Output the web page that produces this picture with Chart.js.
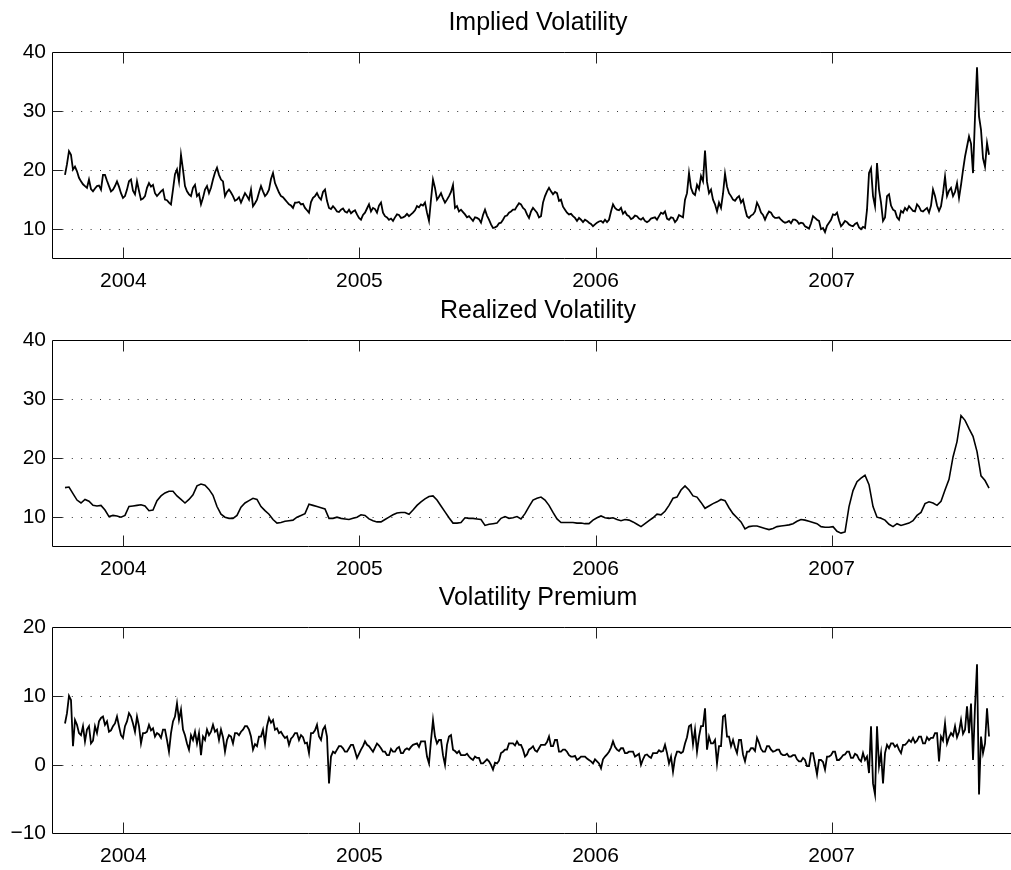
<!DOCTYPE html>
<html>
<head>
<meta charset="utf-8">
<script src="https://cdn.jsdelivr.net/npm/chart.js@4.4.1/dist/chart.umd.min.js"></script>
<style>
  html, body { margin: 0; padding: 0; background: #fff; overflow: hidden; }
  #wrap { position: relative; width: 1011px; height: 870px; overflow: hidden; background: #fff; }
  canvas { position: absolute; left: 0; }
</style>
</head>
<body>
<div id="wrap">
  <canvas id="c1" width="1076" height="295" style="top:0px"></canvas>
  <canvas id="c2" width="1076" height="295" style="top:288px"></canvas>
  <canvas id="c3" width="1076" height="295" style="top:575px"></canvas>
</div>
<script>
// ---- data: decimal-year sampling grid, Oct 2003 .. Aug 2007 ----
const sampleStart = 2003.753;
const denseStep = 0.008471;   // implied vol & premium (about 3 days)
const coarseStep = 0.016942;  // realized vol (about 6 days)
const yearTicks = [2004, 2005, 2006, 2007];
const volTicks = [10, 20, 30, 40];
const premiumTicks = [-10, 0, 10, 20];
const panelTitles = ['Implied Volatility', 'Realized Volatility', 'Volatility Premium'];

const impliedVol = [
  19.2, 21.0, 23.2, 22.6, 20.1, 20.6, 19.8, 18.7, 18.1, 17.6,
  17.3, 17.0, 18.4, 16.8, 16.4, 16.9, 17.3, 17.4, 16.7, 19.2,
  19.2, 18.2, 17.3, 16.4, 16.7, 17.3, 18.1, 17.2, 16.1, 15.3,
  15.6, 16.7, 18.1, 18.4, 16.5, 15.9, 18.1, 16.5, 15.0, 15.2,
  15.6, 17.0, 17.8, 17.2, 17.5, 16.1, 15.6, 16.0, 16.4, 16.7,
  15.0, 14.9, 14.5, 14.2, 16.7, 19.3, 20.1, 18.1, 22.6, 20.1,
  17.3, 16.4, 15.9, 15.6, 17.0, 17.5, 15.6, 16.0, 14.2, 15.3,
  16.7, 17.3, 16.1, 17.0, 18.4, 19.6, 20.4, 19.2, 18.4, 18.1,
  15.6, 16.3, 16.7, 16.2, 15.6, 14.8, 15.0, 15.4, 14.5, 15.3,
  16.1, 15.6, 15.0, 16.7, 13.9, 14.4, 15.0, 16.2, 17.3, 16.4,
  15.6, 16.0, 16.7, 18.5, 19.5, 17.8, 17.0, 16.2, 15.6, 15.4,
  15.0, 14.6, 14.2, 14.0, 13.6, 14.5, 14.5, 14.6, 14.2, 14.3,
  13.6, 13.2, 12.8, 14.6, 15.3, 15.6, 16.1, 15.4, 15.0, 16.3,
  16.7, 14.8, 13.6, 13.4, 13.9, 13.5, 13.0, 12.9, 13.3, 13.5,
  13.0, 12.8, 13.3, 12.7, 13.0, 13.2, 12.5, 11.9, 11.6, 12.4,
  12.8, 13.5, 14.2, 13.0, 13.6, 13.4, 12.8, 14.0, 14.5, 12.8,
  12.2, 12.0, 11.6, 11.8, 11.4, 12.0, 12.5, 12.4, 11.9, 12.0,
  12.2, 12.6, 12.2, 12.5, 12.8, 13.2, 13.9, 13.7, 14.2, 14.0,
  14.5, 12.8, 11.4, 15.0, 18.4, 17.0, 15.0, 15.5, 16.1, 15.2,
  14.5, 15.0, 15.6, 16.3, 17.5, 13.6, 13.9, 13.0, 13.3, 12.9,
  12.5, 12.0, 12.2, 11.8, 11.4, 12.0, 11.9, 11.7, 11.1, 12.4,
  13.3, 12.3, 11.6, 10.8, 10.2, 10.3, 10.5, 11.0, 11.1, 11.6,
  12.2, 12.3, 12.8, 13.0, 13.3, 13.3, 13.9, 14.4, 14.2, 13.6,
  13.3, 12.5, 11.9, 13.0, 13.6, 13.2, 12.8, 12.0, 12.2, 14.5,
  15.6, 16.4, 17.0, 16.4, 15.9, 16.3, 16.1, 14.8, 15.0, 13.8,
  13.3, 12.8, 12.5, 12.6, 12.2, 11.9, 11.4, 11.9, 11.6, 11.2,
  11.6, 11.4, 11.1, 10.9, 10.5, 10.8, 11.1, 11.3, 11.4, 11.1,
  11.6, 11.2, 11.6, 13.0, 14.2, 13.6, 13.3, 13.2, 13.6, 12.6,
  13.0, 12.4, 12.2, 11.7, 11.9, 12.3, 12.2, 11.8, 11.6, 11.9,
  11.4, 11.2, 11.4, 11.8, 11.9, 12.0, 11.6, 12.2, 12.8, 12.6,
  13.0, 11.8, 11.6, 12.0, 11.9, 11.2, 11.6, 12.4, 12.2, 12.0,
  15.0, 16.1, 19.5, 17.0, 16.1, 15.8, 17.5, 16.8, 19.0, 18.1,
  23.3, 18.0, 16.1, 16.7, 15.0, 14.2, 13.0, 14.5, 13.6, 16.0,
  19.4, 17.2, 16.1, 15.6, 15.0, 14.8, 15.3, 15.6, 14.5, 15.0,
  13.5, 12.2, 11.9, 12.3, 12.5, 13.0, 14.5, 13.8, 12.8, 12.4,
  11.6, 12.4, 13.0, 12.8, 12.2, 11.9, 11.9, 12.0, 11.6, 11.3,
  11.1, 11.2, 11.4, 11.0, 11.6, 11.6, 11.4, 10.9, 11.1, 11.0,
  10.5, 10.3, 10.1, 11.0, 12.2, 11.9, 11.6, 11.4, 10.0, 10.2,
  9.5, 10.6, 11.1, 11.6, 12.5, 12.4, 12.8, 11.5, 10.5, 10.9,
  11.4, 11.2, 10.8, 10.6, 10.5, 10.9, 11.1, 10.3, 10.0, 10.4,
  10.2, 13.3, 19.5, 20.3, 15.6, 13.9, 21.2, 16.7, 14.5, 11.4,
  12.0, 15.6, 15.9, 14.0, 13.3, 13.1, 12.0, 11.6, 13.1, 12.8,
  13.6, 13.2, 13.9, 13.5, 13.1, 13.0, 14.2, 13.8, 13.1, 13.0,
  13.3, 13.6, 12.8, 14.0, 16.7, 15.6, 14.0, 13.1, 13.9, 16.1,
  18.9, 15.6, 16.5, 17.0, 15.6, 16.3, 17.8, 15.3, 17.5, 20.0,
  22.3, 24.0, 25.7, 24.5, 19.5, 29.1, 37.4, 29.1, 26.8, 22.0,
  20.6, 24.6, 22.6
];

const realizedVol = [
  15.0, 15.1, 14.0, 12.9, 12.4, 13.0, 12.7, 12.0, 11.9, 12.0,
  11.2, 10.1, 10.3, 10.2, 10.0, 10.3, 11.8, 11.9, 12.0, 12.1,
  11.9, 11.1, 11.2, 12.8, 13.6, 14.1, 14.4, 14.4, 13.6, 13.0,
  12.4, 13.0, 13.8, 15.3, 15.6, 15.4, 14.7, 13.7, 11.8, 10.5,
  10.0, 9.8, 9.8, 10.3, 11.7, 12.4, 12.8, 13.2, 13.0, 11.8,
  11.1, 10.5, 9.6, 9.0, 9.1, 9.3, 9.4, 9.5, 10.0, 10.3,
  10.6, 12.2, 12.0, 11.8, 11.6, 11.4, 9.8, 9.8, 10.0, 9.8,
  9.7, 9.6, 9.8, 10.0, 10.4, 10.3, 9.7, 9.4, 9.2, 9.2,
  9.6, 10.0, 10.4, 10.7, 10.8, 10.8, 10.5, 11.2, 12.0, 12.6,
  13.1, 13.5, 13.6, 12.9, 11.9, 10.9, 9.9, 9.0, 9.0, 9.1,
  9.9, 9.8, 9.8, 9.7, 9.6, 8.6, 8.8, 8.9, 9.0, 9.8,
  10.1, 9.8, 9.9, 10.1, 9.7, 10.6, 11.8, 12.9, 13.2, 13.4,
  12.9, 12.0, 10.8, 9.7, 9.1, 9.1, 9.1, 9.1, 9.0, 9.0,
  8.9, 8.9, 9.5, 9.9, 10.2, 9.9, 9.8, 9.9, 9.6, 9.4,
  9.6, 9.5, 9.2, 8.8, 8.4, 8.9, 9.4, 9.9, 10.5, 10.4,
  11.0, 12.0, 13.2, 13.4, 14.6, 15.3, 14.6, 13.6, 13.4, 12.5,
  11.5, 11.9, 12.3, 12.6, 13.0, 12.8, 11.6, 10.6, 9.9, 9.2,
  8.0, 8.4, 8.5, 8.5, 8.3, 8.1, 7.9, 8.1, 8.4, 8.5,
  8.6, 8.7, 8.9, 9.3, 9.6, 9.5, 9.3, 9.1, 8.9, 8.4,
  8.3, 8.3, 8.4, 7.6, 7.3, 7.5, 11.8, 14.5, 16.0, 16.6,
  17.1, 15.5, 11.8, 10.0, 9.8, 9.5, 8.8, 8.4, 8.9, 8.6,
  8.8, 9.0, 9.4, 10.3, 10.8, 12.3, 12.6, 12.4, 12.0, 12.7,
  14.6, 16.4, 20.2, 22.8, 27.2, 26.4, 25.0, 23.7, 21.1, 17.0,
  16.2, 14.9
];

const volPremium = [
  6.0, 7.5, 10.0, 9.4, 2.7, 6.5, 5.8, 4.6, 4.3, 5.6,
  3.4, 5.1, 5.6, 3.1, 3.5, 5.6, 4.6, 6.3, 6.8, 7.0,
  5.8, 6.3, 4.8, 5.0, 5.6, 6.0, 7.0, 5.6, 4.3, 3.9,
  5.6, 6.3, 7.5, 7.0, 6.0, 4.8, 7.0, 5.6, 3.1, 4.6,
  4.6, 4.8, 5.8, 5.0, 5.3, 4.1, 4.6, 4.4, 3.9, 5.1,
  5.1, 3.6, 1.9, 4.6, 6.3, 7.0, 8.9, 6.5, 8.0, 5.1,
  4.3, 3.1, 2.2, 4.3, 3.6, 4.8, 3.1, 4.6, 1.4, 4.1,
  3.6, 5.1, 4.3, 4.8, 5.8, 4.8, 5.1, 3.6, 5.1, 4.0,
  1.9, 3.6, 4.3, 4.1, 3.1, 4.6, 4.6, 4.3, 4.8, 5.1,
  5.6, 5.6, 5.1, 4.1, 2.2, 3.0, 2.7, 4.1, 4.1, 5.1,
  3.1, 5.6, 6.8, 6.1, 6.5, 5.1, 5.3, 4.6, 4.8, 4.3,
  3.9, 4.1, 2.9, 3.8, 4.1, 4.6, 4.6, 3.6, 4.3, 4.0,
  3.1, 3.2, 1.7, 4.6, 4.6, 5.0, 5.8, 4.1, 3.6, 5.1,
  5.6, 4.1, -2.7, 1.2, 1.9, 1.7, 2.2, 2.7, 2.7, 2.4,
  1.9, 1.9, 2.4, 2.9, 2.9, 2.0, 1.0, 1.6, 2.2, 2.7,
  3.4, 2.9, 2.7, 2.3, 1.9, 2.5, 3.1, 2.8, 2.4, 1.9,
  1.9, 1.4, 1.4, 2.3, 1.9, 1.9, 2.4, 2.6, 1.7, 1.7,
  2.2, 2.4, 2.2, 2.6, 2.9, 3.0, 3.1, 2.6, 3.4, 3.4,
  3.4, 1.2, 0.2, 3.5, 6.5, 4.1, 3.1, 3.6, 3.6, 1.4,
  0.0, 2.9, 4.1, 4.3, 2.2, 2.0, 1.7, 2.0, 1.4, 1.4,
  1.4, 1.6, 1.2, 0.9, 0.7, 1.2, 1.0, 1.0, 0.2, 0.2,
  0.5, 0.8, 0.5, 0.0, -0.7, 0.3, 0.2, 0.6, 1.7, 1.9,
  2.2, 2.2, 3.1, 3.1, 3.1, 2.8, 3.4, 2.9, 2.9, 2.2,
  1.2, 1.5, 2.2, 2.4, 2.7, 2.1, 1.9, 2.4, 2.9, 2.9,
  2.9, 3.3, 4.1, 2.7, 2.7, 3.6, 3.6, 1.9, 1.9, 2.2,
  2.2, 1.9, 1.4, 1.2, 1.2, 1.3, 0.7, 0.9, 1.2, 1.2,
  1.2, 0.9, 0.7, 0.5, 0.2, 0.8, 0.5, 0.2, -0.5, 0.8,
  1.2, 1.5, 1.9, 2.5, 3.4, 2.6, 2.2, 2.0, 2.4, 2.4,
  1.7, 1.7, 1.9, 1.9, 1.9, 1.2, 1.4, 1.6, 0.0, 0.8,
  1.4, 1.5, 1.2, 1.0, 1.7, 1.7, 1.7, 2.1, 1.9, 2.0,
  2.9, 1.7, 0.2, 1.2, -1.0, 1.0, 1.9, 1.9, 1.7, 1.9,
  3.1, 4.0, 5.6, 5.8, 3.0, 5.1, 1.9, 4.1, 5.6, 5.6,
  8.2, 2.2, 4.1, 3.1, 3.1, 3.6, 0.2, 2.7, 2.7, 7.0,
  7.2, 4.1, 4.1, 2.7, 3.6, 2.5, 1.7, 3.6, 3.6, 1.5,
  0.5, 1.9, 1.9, 2.4, 2.4, 2.0, 3.9, 3.2, 2.3, 1.9,
  1.9, 2.7, 2.7, 2.2, 1.9, 2.0, 2.2, 2.2, 1.6, 1.4,
  1.4, 1.6, 1.2, 1.2, 1.4, 1.4, 0.8, 0.5, 0.5, 1.0,
  0.7, -0.2, -0.2, 1.7, 1.7, 0.2, -1.4, 0.7, 0.7, 0.4,
  -0.7, 1.2, 1.2, 1.4, 1.9, 1.9, 0.7, 0.7, 1.0, 1.4,
  1.5, 1.9, 1.9, 1.0, 1.0, 1.6, 1.4, 0.8, 0.5, 1.7,
  0.7, 1.2, -1.2, 5.6, -2.7, -4.3, 5.6, -0.2, 1.7, -2.7,
  1.7, 2.9, 2.4, 3.1, 3.1, 2.6, 2.9, 2.2, 1.7, 2.9,
  2.9, 3.2, 3.6, 3.3, 3.9, 3.2, 3.5, 4.1, 4.1, 3.1,
  3.1, 4.0, 3.6, 3.9, 3.9, 4.6, 4.6, 0.5, 4.1, 3.5,
  6.0, 3.1, 4.0, 4.6, 4.2, 5.6, 4.0, 4.8, 6.5, 4.5,
  5.1, 8.5, 4.6, 8.9, 0.7, 8.5, 14.6, -4.3, 4.1, 1.7,
  3.1, 8.2, 4.1
];

// ---- drawing ----
const FONT = "'Liberation Sans', Arial, Helvetica, sans-serif";
const X_MIN = 2003.698, X_MAX = 2008.035;

const matlabAxes = {
  id: 'matlabAxes',
  beforeDatasetsDraw(chart) {
    const { ctx, chartArea: a, scales: { y } } = chart;
    ctx.save();
    ctx.strokeStyle = '#333';
    ctx.lineWidth = 1;
    ctx.setLineDash([1, 8.4]);
    y.ticks.forEach(t => {
      if (t.value <= y.min || t.value >= y.max) return;
      const py = Math.round(y.getPixelForValue(t.value)) + 0.5;
      ctx.beginPath();
      ctx.moveTo(a.left + 1, py);
      ctx.lineTo(a.right, py);
      ctx.stroke();
    });
    ctx.restore();
  },
  afterDatasetsDraw(chart) {
    const { ctx, chartArea: a, scales: { x, y } } = chart;
    const L = Math.round(a.left) + 0.5, T = Math.round(a.top) + 0.5, B = Math.floor(a.bottom) + 0.5;
    ctx.save();
    ctx.strokeStyle = '#000';
    ctx.lineWidth = 1;
    ctx.setLineDash([]);
    ctx.beginPath();
    ctx.moveTo(a.right + 2, T); ctx.lineTo(L, T); ctx.lineTo(L, B); ctx.lineTo(a.right + 2, B);
    ctx.stroke();
    ctx.strokeStyle = '#222';
    ctx.beginPath();
    x.ticks.forEach(t => {
      const px = Math.round(x.getPixelForValue(t.value)) + 0.5;
      ctx.moveTo(px, B); ctx.lineTo(px, B - 11);
      ctx.moveTo(px, T); ctx.lineTo(px, T + 11);
    });
    y.ticks.forEach(t => {
      if (t.value <= y.min || t.value >= y.max) return;
      const py = Math.round(y.getPixelForValue(t.value)) + 0.5;
      ctx.moveTo(L, py); ctx.lineTo(L + 10, py);
    });
    ctx.stroke();
    ctx.restore();
  }
};

function makePanel(id, title, values, step, width, yMin, yMax, yTickVals) {
  const points = values.map((v, i) => ({ x: sampleStart + i * step, y: v }));
  return new Chart(document.getElementById(id), {
    type: 'line',
    data: {
      datasets: [{
        label: title,
        data: points,
        borderColor: '#000',
        borderWidth: width,
        pointRadius: 0,
        tension: 0,
        fill: false
      }]
    },
    options: {
      responsive: false,
      animation: false,
      devicePixelRatio: 1,
      layout: { padding: 0 },
      plugins: {
        legend: { display: false },
        tooltip: { enabled: false },
        title: {
          display: true,
          text: title,
          color: '#000',
          font: { family: FONT, size: 25, weight: 'normal' },
          padding: { top: 8, bottom: 14 }
        }
      },
      scales: {
        x: {
          type: 'linear',
          position: 'bottom',
          min: X_MIN,
          max: X_MAX,
          afterBuildTicks: s => { s.ticks = yearTicks.map(v => ({ value: v })); },
          afterFit: s => { s.height = 36.3; },
          grid: { display: false, drawTicks: false },
          border: { display: false },
          ticks: {
            color: '#000',
            font: { family: FONT, size: 21 },
            padding: 10,
            autoSkip: false,
            maxRotation: 0,
            callback: v => String(v)
          }
        },
        y: {
          type: 'linear',
          min: yMin,
          max: yMax,
          afterBuildTicks: s => { s.ticks = yTickVals.map(v => ({ value: v })); },
          afterFit: s => { s.width = 52; },
          grid: { display: false, drawTicks: false },
          border: { display: false },
          ticks: {
            color: '#000',
            font: { family: FONT, size: 21 },
            padding: 6,
            callback: v => (v < 0 ? '\u2212' + Math.abs(v) : String(v))
          }
        }
      }
    },
    plugins: [matlabAxes]
  });
}

makePanel('c1', panelTitles[0], impliedVol, denseStep, 1.8, 5, 40, volTicks);
makePanel('c2', panelTitles[1], realizedVol, coarseStep, 1.6, 5, 40, volTicks);
makePanel('c3', panelTitles[2], volPremium, denseStep, 1.8, -10, 20, premiumTicks);
</script>
</body>
</html>
